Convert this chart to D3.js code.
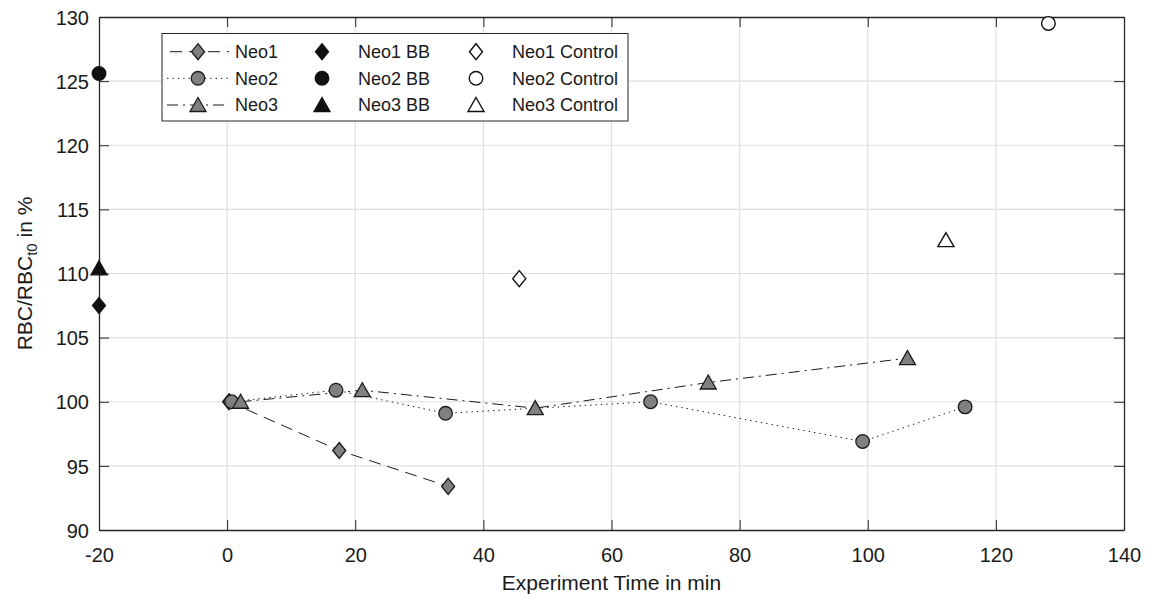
<!DOCTYPE html>
<html>
<head>
<meta charset="utf-8">
<script src="https://cdn.jsdelivr.net/npm/d3@7"></script>
<style>
  body { margin: 0; background: #fff; }
  svg { font-family: "Liberation Sans", Arial, sans-serif; }
</style>
</head>
<body>
<div id="chart"></div>
<script>
// data
const neo1Time = [0.3, 17.5, 34.5];
const neo1Val = [100, 96.2, 93.4];
const neo2Time = [0.7, 17, 34.1, 66.1, 99.2, 115.2];
const neo2Val = [100, 100.9, 99.1, 100, 96.9, 99.6];
const neo3Time = [2.1, 21.1, 48.1, 75.1, 106.2];
const neo3Val = [100, 100.9, 99.5, 101.5, 103.4];
const bbTime = [-20, -20, -20];
const bbVal = [107.5, 125.6, 110.4];
const controlTime = [45.6, 128.2, 112.2];
const controlVal = [109.6, 129.5, 112.6];
const xTicks = [-20, 0, 20, 40, 60, 80, 100, 120, 140];
const yTicks = [90, 95, 100, 105, 110, 115, 120, 125, 130];

const W = 1149, H = 599;
const margin = { top: 17, right: 25, bottom: 69, left: 99 };
const width = W - margin.left - margin.right;
const height = H - margin.top - margin.bottom;
const axisColor = "#262626";
const tickFont = 20, legendFont = 18, titleFont = 21;

const svg = d3.select("#chart").append("svg")
  .attr("width", W).attr("height", H);
const g = svg.append("g")
  .attr("transform", `translate(${margin.left},${margin.top})`);

const x = d3.scaleLinear().domain([-20, 140]).range([0, width]);
const y = d3.scaleLinear().domain([90, 130]).range([height, 0]);

// marker shapes (MATLAB style)
function marker(shape) {
  if (shape === "diamond") return "M0,-8L6.5,0L0,8L-6.5,0Z";
  if (shape === "triangle") return "M0,-7.5L8,6.5L-8,6.5Z";
  return d3.symbol(d3.symbolCircle, Math.PI * 6.8 * 6.8)();
}

// grid
g.append("g").selectAll("line").data(xTicks.slice(1, -1)).join("line")
  .attr("x1", d => x(d)).attr("x2", d => x(d))
  .attr("y1", 0).attr("y2", height)
  .attr("stroke", "#dfdfdf").attr("stroke-width", 1.2);
g.append("g").selectAll("line").data(yTicks.slice(1, -1)).join("line")
  .attr("y1", d => y(d)).attr("y2", d => y(d))
  .attr("x1", 0).attr("x2", width)
  .attr("stroke", "#dfdfdf").attr("stroke-width", 1.2);

// axes (ticks inside, box on)
const xAxis = g.append("g")
  .attr("transform", `translate(0,${height})`)
  .call(d3.axisBottom(x).tickValues(xTicks).tickSizeInner(-10).tickSizeOuter(0)
    .tickPadding(18).tickFormat(d => String(d)));
const xAxisTop = g.append("g")
  .call(d3.axisTop(x).tickValues(xTicks).tickSizeInner(-10).tickSizeOuter(0).tickFormat(""));
const yAxis = g.append("g")
  .call(d3.axisLeft(y).tickValues(yTicks).tickSizeInner(-10).tickSizeOuter(0)
    .tickPadding(10).tickFormat(d => String(d)));
const yAxisRight = g.append("g")
  .attr("transform", `translate(${width},0)`)
  .call(d3.axisRight(y).tickValues(yTicks).tickSizeInner(-10).tickSizeOuter(0).tickFormat(""));

[xAxis, xAxisTop, yAxis, yAxisRight].forEach(a => {
  a.select(".domain").attr("stroke", axisColor).attr("stroke-width", 1.3);
  a.selectAll(".tick line").attr("stroke", axisColor).attr("stroke-width", 1);
  a.selectAll("text").attr("fill", "#1a1a1a").attr("font-size", tickFont)
    .attr("font-family", "Liberation Sans, Arial, sans-serif");
});
yAxis.selectAll("text").attr("dy", "0.36em");

// axis titles
svg.append("text")
  .attr("x", margin.left + width / 2).attr("y", 590)
  .attr("text-anchor", "middle").attr("font-size", titleFont).attr("fill", "#1a1a1a")
  .text("Experiment Time in min");
const yt = svg.append("text")
  .attr("transform", `translate(32,${margin.top + height / 2}) rotate(-90)`)
  .attr("text-anchor", "middle").attr("font-size", titleFont).attr("fill", "#1a1a1a");
yt.append("tspan").text("RBC/RBC");
yt.append("tspan").attr("baseline-shift", "-30%").attr("font-size", 15).text("t0");
yt.append("tspan").text(" in %");

// series
const series = [
  { name: "Neo1", t: neo1Time, v: neo1Val, shape: "diamond", dash: "12,7" },
  { name: "Neo2", t: neo2Time, v: neo2Val, shape: "circle", dash: "1.4,4" },
  { name: "Neo3", t: neo3Time, v: neo3Val, shape: "triangle", dash: "11,5,2,5" }
];
const line = d3.line().x(d => x(d[0])).y(d => y(d[1]));

series.forEach(s => {
  const pts = s.t.map((t, i) => [t, s.v[i]]);
  g.append("path").datum(pts)
    .attr("d", line).attr("fill", "none")
    .attr("stroke", "#1a1a1a").attr("stroke-width", 1)
    .attr("stroke-dasharray", s.dash);
});
series.forEach(s => {
  const pts = s.t.map((t, i) => [t, s.v[i]]);
  g.append("g").selectAll("path").data(pts).join("path")
    .attr("d", marker(s.shape))
    .attr("transform", d => `translate(${x(d[0])},${y(d[1])})`)
    .attr("fill", "#808080").attr("stroke", "#1a1a1a").attr("stroke-width", 1.3);
});

// BB and control points
const shapes = ["diamond", "circle", "triangle"];
g.append("g").selectAll("path").data(bbTime.map((t, i) => [t, bbVal[i], shapes[i]])).join("path")
  .attr("d", d => marker(d[2]))
  .attr("transform", d => `translate(${x(d[0])},${y(d[1])})`)
  .attr("fill", "#111").attr("stroke", "#111").attr("stroke-width", 1.3);
g.append("g").selectAll("path").data(controlTime.map((t, i) => [t, controlVal[i], shapes[i]])).join("path")
  .attr("d", d => marker(d[2]))
  .attr("transform", d => `translate(${x(d[0])},${y(d[1])})`)
  .attr("fill", "#fff").attr("stroke", "#111").attr("stroke-width", 1.4);

// legend
const legend = svg.append("g");
legend.append("rect")
  .attr("x", 162).attr("y", 33.5).attr("width", 466).attr("height", 87.5)
  .attr("fill", "#fff").attr("stroke", axisColor).attr("stroke-width", 1);
const rowY = [51.7, 78.3, 105];
series.forEach((s, i) => {
  const ry = rowY[i];
  legend.append("line").attr("x1", 167).attr("x2", 229).attr("y1", ry).attr("y2", ry)
    .attr("stroke", "#1a1a1a").attr("stroke-width", 1).attr("stroke-dasharray", s.dash)
    .attr("stroke-dashoffset", i === 0 ? -3 : 0);
  legend.append("path").attr("d", marker(s.shape))
    .attr("transform", `translate(198,${ry})`)
    .attr("fill", "#808080").attr("stroke", "#1a1a1a").attr("stroke-width", 1.3);
  legend.append("text").attr("x", 235).attr("y", ry).attr("dy", "0.36em")
    .attr("font-size", legendFont).attr("fill", "#1a1a1a").text(s.name);

  legend.append("path").attr("d", marker(s.shape))
    .attr("transform", `translate(322,${ry})`)
    .attr("fill", "#111").attr("stroke", "#111").attr("stroke-width", 1.3);
  legend.append("text").attr("x", 358).attr("y", ry).attr("dy", "0.36em")
    .attr("font-size", legendFont).attr("fill", "#1a1a1a").text(s.name + " BB");

  legend.append("path").attr("d", marker(s.shape))
    .attr("transform", `translate(476,${ry})`)
    .attr("fill", "#fff").attr("stroke", "#111").attr("stroke-width", 1.4);
  legend.append("text").attr("x", 512).attr("y", ry).attr("dy", "0.36em")
    .attr("font-size", legendFont).attr("fill", "#1a1a1a").text(s.name + " Control");
});
</script>
</body>
</html>
